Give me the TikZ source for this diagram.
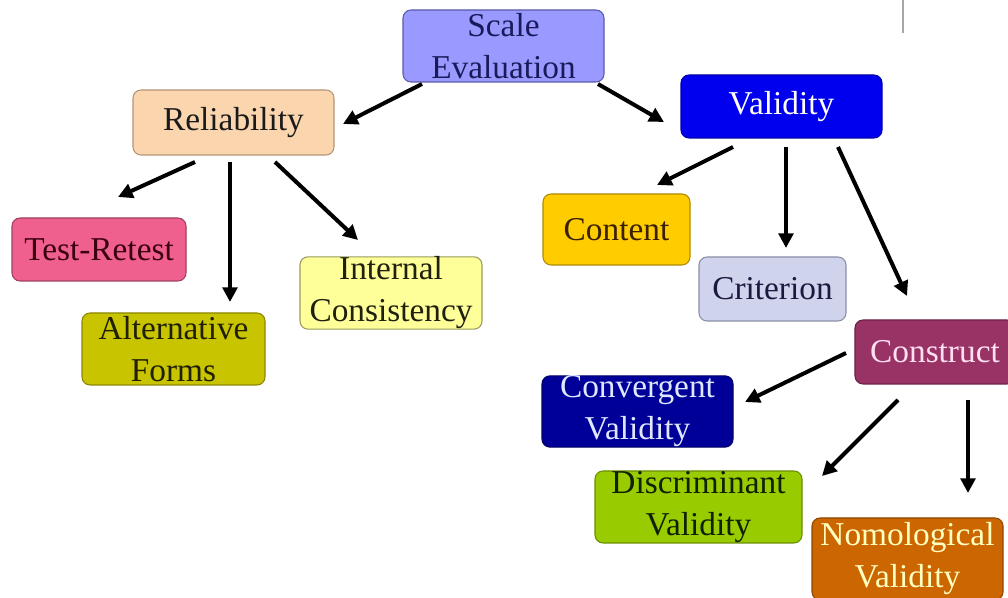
\documentclass[tikz,border=0pt]{standalone}
\usepackage{fontspec}
\setmainfont{Liberation Serif}
\usetikzlibrary{arrows.meta,calc}
\definecolor{cSE}{HTML}{9999FF}\definecolor{tSE}{HTML}{1A1A5A}\definecolor{bSE}{HTML}{5A5AAA}
\definecolor{cREL}{HTML}{FBD5AD}\definecolor{tREL}{HTML}{1A1A1A}\definecolor{bREL}{HTML}{B49678}
\definecolor{cVAL}{HTML}{0000EE}\definecolor{tVAL}{HTML}{FFFFFF}\definecolor{bVAL}{HTML}{0000AA}
\definecolor{cTR}{HTML}{F0608E}\definecolor{tTR}{HTML}{3A0010}\definecolor{bTR}{HTML}{A04060}
\definecolor{cALT}{HTML}{C9C400}\definecolor{tALT}{HTML}{202000}\definecolor{bALT}{HTML}{8A8600}
\definecolor{cIC}{HTML}{FFFF99}\definecolor{tIC}{HTML}{202010}\definecolor{bIC}{HTML}{9A9A60}
\definecolor{cCON}{HTML}{FFCC00}\definecolor{tCON}{HTML}{3A2000}\definecolor{bCON}{HTML}{B08A00}
\definecolor{cCRI}{HTML}{CFD3EB}\definecolor{tCRI}{HTML}{1A1A40}\definecolor{bCRI}{HTML}{8A8EA8}
\definecolor{cCST}{HTML}{993366}\definecolor{tCST}{HTML}{FFE0F0}\definecolor{bCST}{HTML}{6A2044}
\definecolor{cCVG}{HTML}{000099}\definecolor{tCVG}{HTML}{E0E8FF}\definecolor{bCVG}{HTML}{000066}
\definecolor{cDSC}{HTML}{99CC00}\definecolor{tDSC}{HTML}{102000}\definecolor{bDSC}{HTML}{6A8E00}
\definecolor{cNOM}{HTML}{CC6600}\definecolor{tNOM}{HTML}{FFFFC0}\definecolor{bNOM}{HTML}{8E4600}
\begin{document}
\begin{tikzpicture}[x=0.75pt,y=-0.75pt,
  box/.style={draw, line width=0.8pt, rounded corners=6pt, align=center, inner sep=0pt,
    font=\fontsize{25}{31.5}\selectfont},
  arr/.style={line width=3pt, black, -{Triangle[length=11pt,width=11pt]}}]
\clip (0,0) rectangle (1008,598);
\fill[white] (0,0) rectangle (1008,598);
\draw[gray!70, line width=1.2pt] (903,0) -- (903,33);

\node[box, fill=cSE, draw=bSE, text=tSE, minimum width=150.75pt, minimum height=54pt] (se) at (503.5,46) {Scale\\Evaluation};
\node[box, fill=cREL, draw=bREL, text=tREL, minimum width=150.75pt, minimum height=48.75pt] (rel) at (233.5,122.5) {Reliability};
\node[box, fill=cVAL, draw=bVAL, text=tVAL, minimum width=150.75pt, minimum height=47.25pt] (val) at (781.5,106.5) {Validity};
\node[box, fill=cTR, draw=bTR, text=tTR, minimum width=130.5pt, minimum height=47.25pt] (tr) at (99,249.5) {Test-Retest};
\node[box, fill=cALT, draw=bALT, text=tALT, minimum width=137.25pt, minimum height=54pt] (alt) at (173.5,349) {Alternative\\Forms};
\node[box, fill=cIC, draw=bIC, text=tIC, minimum width=136.5pt, minimum height=54pt] (ic) at (391,293) {Internal\\Consistency};
\node[box, fill=cCON, draw=bCON, text=tCON, minimum width=110.25pt, minimum height=53.25pt] (con) at (616.5,229.5) {Content};
\node[box, fill=cCRI, draw=bCRI, text=tCRI, minimum width=110.25pt, minimum height=48pt] (cri) at (772.5,289) {Criterion};
\node[box, fill=cCST, draw=bCST, text=tCST, minimum width=120pt, minimum height=48pt] (cst) at (935,352) {Construct};
\node[box, fill=cCVG, draw=bCVG, text=tCVG, minimum width=143.25pt, minimum height=53.25pt] (cvg) at (637.5,411.5) {Convergent\\Validity};
\node[box, fill=cDSC, draw=bDSC, text=tDSC, minimum width=155.25pt, minimum height=54pt] (dsc) at (698.5,507) {Discriminant\\Validity};
\node[box, fill=cNOM, draw=bNOM, text=tNOM, minimum width=143.25pt, minimum height=61.5pt] (nom) at (907.5,559) {Nomological\\Validity};

\draw[arr] ($(se)+(-81.5,38)$) -- ($(rel)+(109.5,1.5)$);
\draw[arr] ($(se)+(94.5,38)$) -- ($(val)+(-117.5,15.5)$);
\draw[arr] ($(rel)+(-38.5,39.5)$) -- ($(tr)+(19,-52.5)$);
\draw[arr] ($(rel)+(-3.5,39.5)$) -- ($(alt)+(56.5,-47)$);
\draw[arr] ($(rel)+(41.5,39.5)$) -- ($(ic)+(-33,-53)$);
\draw[arr] ($(val)+(-48.5,40.5)$) -- ($(con)+(40.5,-44.5)$);
\draw[arr] ($(val)+(4.5,40.5)$) -- ($(cri)+(13.5,-41)$);
\draw[arr] ($(val)+(56.5,40.5)$) -- ($(cst)+(-28,-56)$);
\draw[arr] ($(cst)+(-89,1)$) -- ($(cvg)+(107.5,-9.5)$);
\draw[arr] ($(cst)+(-37,48)$) -- ($(dsc)+(123.5,-31)$);
\draw[arr] ($(cst)+(33,48)$) -- ($(nom)+(60.5,-66)$);
\end{tikzpicture}
\end{document}
